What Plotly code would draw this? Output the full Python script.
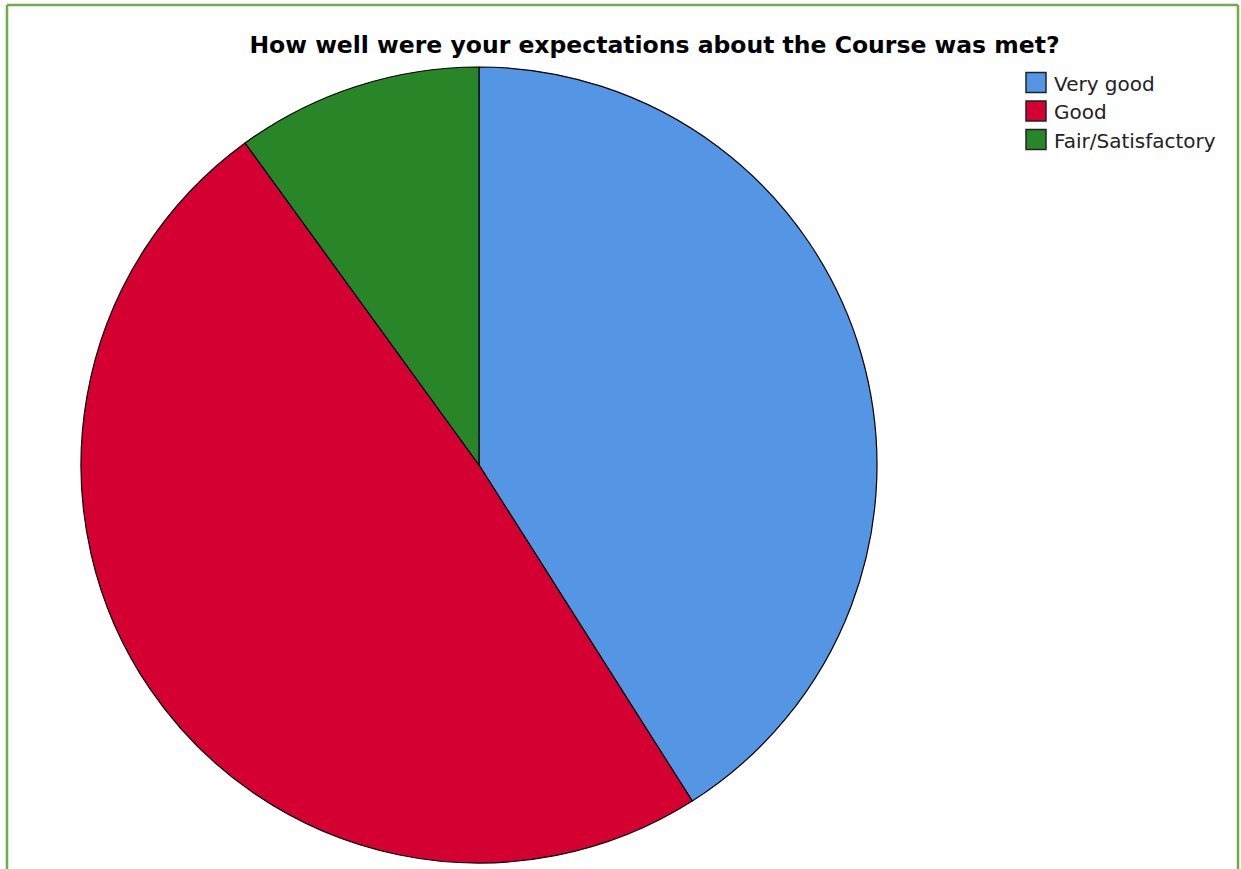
import plotly.graph_objects as go

labels = ["Very good", "Good", "Fair/Satisfactory"]
values = [41, 49, 10]
colors = ["#5596E4", "#D40032", "#288628"]

W, H = 1241, 869

fig = go.Figure()
fig.add_trace(go.Pie(
    labels=labels,
    values=values,
    sort=False,
    direction="clockwise",
    rotation=0,
    textinfo="none",
    hoverinfo="label+percent",
    showlegend=False,
    marker=dict(colors=colors, line=dict(color="#000000", width=1.2)),
    domain=dict(x=[80 / W, 878 / W], y=[(H - 863) / H, (H - 67) / H]),
))

frame = "#70AD47"
fig.add_shape(type="line", xref="paper", yref="paper", x0=7 / W, x1=7 / W, y0=0, y1=1 - 5 / H,
              line=dict(color=frame, width=2.5))
fig.add_shape(type="line", xref="paper", yref="paper", x0=1238 / W, x1=1238 / W, y0=0, y1=1 - 5 / H,
              line=dict(color=frame, width=2.5))
fig.add_shape(type="line", xref="paper", yref="paper", x0=7 / W, x1=1238 / W, y0=1 - 5 / H, y1=1 - 5 / H,
              line=dict(color=frame, width=2.5))

# custom legend built from labels / colors
row0, step = 82.5, 28.5
for i, (lab, col) in enumerate(zip(labels, colors)):
    cy = row0 + i * step
    fig.add_shape(type="rect", xref="paper", yref="paper",
                  x0=1026 / W, x1=1046 / W, y0=1 - (cy - 10) / H, y1=1 - (cy + 10) / H,
                  fillcolor=col, line=dict(color="#222222", width=1.5))
    fig.add_annotation(xref="paper", yref="paper", x=1052 / W, y=1 - (cy + 1) / H,
                       xanchor="left", yanchor="middle", showarrow=False, text=lab,
                       font=dict(family="DejaVu Sans, sans-serif", size=20, color="#222222"))

fig.update_layout(
    width=W, height=H,
    margin=dict(l=0, r=0, t=0, b=0),
    paper_bgcolor="white",
    plot_bgcolor="white",
    font=dict(family="DejaVu Sans, sans-serif", color="#000000"),
    title=dict(
        text="<b>How well were your expectations about the Course was met?</b>",
        x=654.5 / W, xanchor="center",
        y=1 - 45 / H, yanchor="middle",
        font=dict(size=23.5, family="DejaVu Sans, sans-serif", color="#000000"),
    ),
    showlegend=False,
)

fig.write_html("out.html")
